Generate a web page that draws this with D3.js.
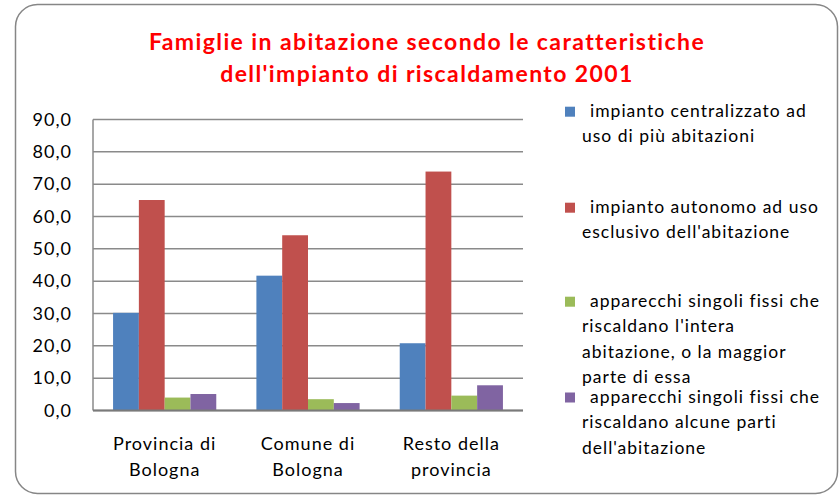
<!DOCTYPE html>
<html><head><meta charset="utf-8">
<script src="https://cdn.jsdelivr.net/npm/d3@7"></script>
<style>body{margin:0;background:#fff}svg{display:block}</style>
</head><body>
<svg id="c" width="839" height="495"></svg>
<script>
const categories = [["Provincia di","Bologna"],["Comune di","Bologna"],["Resto della","provincia"]];
const seriesNames = [
  ["impianto centralizzato ad","uso di più abitazioni"],
  ["impianto autonomo ad uso","esclusivo dell'abitazione"],
  ["apparecchi singoli fissi che","riscaldano l'intera","abitazione, o la maggior","parte di essa"],
  ["apparecchi singoli fissi che","riscaldano alcune parti","dell'abitazione"]
];
const centralizzato = [30.2, 41.7, 20.8];
const autonomo = [65.1, 54.2, 73.9];
const interaAbitazione = [4.0, 3.5, 4.6];
const alcuneParti = [5.1, 2.3, 7.8];
const colors = ["#4F81BD","#C0504D","#9BBB59","#8064A2"];
const yTicks = [0,10,20,30,40,50,60,70,80,90];
const titleLines = ["Famiglie in abitazione secondo le caratteristiche","dell'impianto di riscaldamento 2001"];

const series = [centralizzato, autonomo, interaAbitazione, alcuneParti];
const font = "Lato, 'Open Sans', sans-serif";
const svg = d3.select("#c");

svg.append("rect").attr("x",15.5).attr("y",4.5).attr("width",822).attr("height",489)
  .attr("rx",22).attr("fill","#fff").attr("stroke","#868686").attr("stroke-width",1.5);

const L=93, R=523, T=119.5, B=410.5;
const x0 = d3.scaleBand().domain(d3.range(categories.length)).range([L,R]);
const barW = 25.8;
const x1 = d3.scaleBand().domain(d3.range(series.length)).range([0, barW*series.length]);
const y = d3.scaleLinear().domain([0,90]).range([B,T]);

// gridlines
svg.append("g").selectAll("line").data(yTicks).join("line")
  .attr("x1",L).attr("x2",R).attr("y1",d=>y(d)).attr("y2",d=>y(d))
  .attr("stroke","#8a8a8a").attr("stroke-width",1.5);
svg.append("line").attr("x1",L).attr("x2",L).attr("y1",T).attr("y2",B)
  .attr("stroke","#8a8a8a").attr("stroke-width",1.5);

const yAxis = svg.append("g").attr("transform",`translate(${L},0)`)
  .call(d3.axisLeft(y).tickValues(yTicks).tickSize(0).tickPadding(21)
  .tickFormat(d=>d3.format(".1f")(d).replace(".",",")));
yAxis.select(".domain").remove();
yAxis.selectAll("text").attr("font-family",font).attr("font-size",18)
  .attr("letter-spacing","1px").attr("fill","#000");

// bars
const groups = svg.append("g").selectAll("g").data(categories).join("g")
  .attr("transform",(d,i)=>`translate(${x0(i)+x0.bandwidth()/2 - barW*series.length/2},0)`);
groups.selectAll("rect").data((d,i)=>series.map((s,j)=>({j,v:s[i]}))).join("rect")
  .attr("x",d=>x1(d.j)).attr("width",x1.bandwidth())
  .attr("y",d=>y(d.v)).attr("height",d=>y(0)-y(d.v))
  .attr("fill",d=>colors[d.j]);

// bottom axis line
svg.append("line").attr("x1",L).attr("x2",R).attr("y1",B).attr("y2",B)
  .attr("stroke","#7a7a7a").attr("stroke-width",2);

// category labels
categories.forEach((lines,i)=>{
  const t = svg.append("text").attr("text-anchor","middle").attr("font-family",font)
    .attr("font-size",18).attr("letter-spacing","1px").attr("fill","#000");
  lines.forEach((l,k)=>t.append("tspan").attr("x",x0(i)+x0.bandwidth()/2).attr("y",450+k*26).text(l));
});

// title
titleLines.forEach((l,k)=>{
  svg.append("text").attr("x",427).attr("y",50+k*31.7).attr("text-anchor","middle")
    .attr("font-family",font).attr("font-weight","bold").attr("font-size",23)
    .attr("letter-spacing","1.4px").attr("fill","#FF0000").text(l);
});

// legend
const legY = [116.7, 212.7, 306.7, 402.5];
seriesNames.forEach((lines,j)=>{
  svg.append("rect").attr("x",565).attr("y",legY[j]-10).attr("width",10).attr("height",10)
    .attr("fill",colors[j]);
  lines.forEach((l,k)=>{
    svg.append("text").attr("x",k===0?590:582).attr("y",legY[j]+k*25.5)
      .attr("font-family",font).attr("font-size",17.5).attr("letter-spacing","1px")
      .attr("fill","#000").text(l);
  });
});
</script>
</body></html>
